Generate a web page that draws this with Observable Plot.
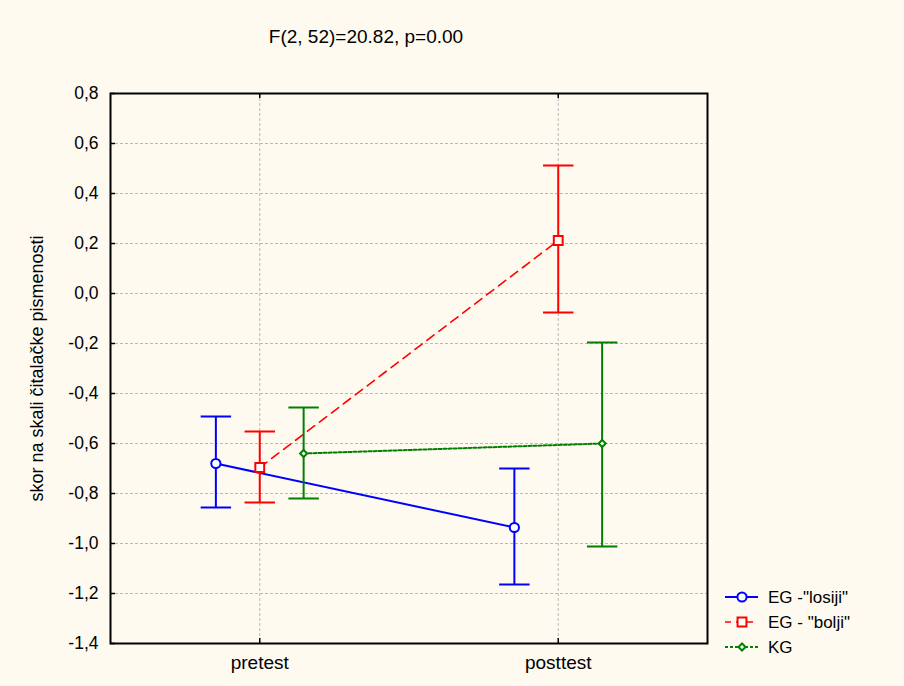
<!DOCTYPE html>
<html><head><meta charset="utf-8">
<script src="https://cdn.jsdelivr.net/npm/d3@7"></script>
<script src="https://cdn.jsdelivr.net/npm/@observablehq/plot@0.6"></script>
<style>
html,body{margin:0;padding:0;background:#fefaf0;}
#wrap{position:relative;width:904px;height:686px;background:#fefaf0;font-family:"Liberation Sans",Arial,sans-serif;color:#000;overflow:hidden;}
#chart{position:absolute;left:0;top:0;}
#title{position:absolute;left:0;width:732px;top:26px;text-align:center;font-size:19px;}
#legend{position:absolute;left:718px;top:582px;}
</style></head><body>
<div id="wrap"><div id="chart"></div><div id="title">F(2, 52)=20.82, p=0.00</div><div id="legend"></div></div>
<script>
// ---- data ----
const times = ["pretest", "posttest"];
const groups = ['EG -"losiji"', 'EG - "bolji"', "KG"];
const meanLosiji = [-0.68, -0.936];
const meanBolji = [-0.696, 0.212];
const meanKG = [-0.64, -0.60];
const hiLosiji = [-0.492, -0.70];
const hiBolji = [-0.552, 0.512];
const hiKG = [-0.456, -0.196];
const loLosiji = [-0.856, -1.164];
const loBolji = [-0.836, -0.076];
const loKG = [-0.82, -1.012];
const yTicks = [0.8, 0.6, 0.4, 0.2, 0.0, -0.2, -0.4, -0.6, -0.8, -1.0, -1.2, -1.4];
const yLabel = "skor na skali čitalačke pismenosti";

// ---- styling ----
const colors = ["#0000ff", "#ff0000", "#008000"];
const dashes = [null, "9,6", "3,2"];
const widths = [2, 1.6, 2];
const symbols = ["circle", "square", "diamond2"];
const radii = [4.6, 5, 3.2];
const offsets = [-0.147, 0, 0.147];
const capHalf = 0.051;

const means = [meanLosiji, meanBolji, meanKG];
const his = [hiLosiji, hiBolji, hiKG];
const los = [loLosiji, loBolji, loKG];

const rows = [];
groups.forEach((g, gi) => times.forEach((t, ti) => rows.push({
  group: g, gi, time: t, x: ti + offsets[gi],
  mean: means[gi][ti], hi: his[gi][ti], lo: los[gi][ti]
})));

const W = 904, H = 686, mL = 110, mR = 197, mT = 93, mB = 43;
const pw = W - mL - mR, ph = H - mT - mB;
const grid = {stroke: "#b9b9b9", strokeOpacity: 1, strokeDasharray: "3,2", strokeWidth: 1};
const fmt = d => d3.format(".1f")(d).replace(".", ",").replace("−", "-");

const marks = [
  Plot.gridY(yTicks, grid),
  Plot.gridX([0, 1], grid),
];
groups.forEach((g, gi) => {
  const data = rows.filter(r => r.gi === gi);
  const st = {stroke: colors[gi], strokeWidth: 2};
  marks.push(
    Plot.ruleX(data, {x: "x", y1: "lo", y2: "hi", ...st}),
    Plot.link(data, {x1: d => d.x - capHalf, x2: d => d.x + capHalf, y1: "lo", y2: "lo", ...st}),
    Plot.link(data, {x1: d => d.x - capHalf, x2: d => d.x + capHalf, y1: "hi", y2: "hi", ...st}),
    Plot.line(data, {x: "x", y: "mean", stroke: colors[gi], strokeWidth: widths[gi], strokeDasharray: dashes[gi]}),
    Plot.dot(data, {x: "x", y: "mean", symbol: symbols[gi], r: radii[gi], stroke: colors[gi], strokeWidth: 2, fill: "white"})
  );
});
marks.push(
  Plot.tickY(yTicks, {y: d => d, stroke: "black", strokeWidth: 1.5, insetRight: pw - 5}),
  Plot.tickX([0, 1], {x: d => d, stroke: "black", strokeWidth: 1.5, insetTop: ph - 5}),
  Plot.tickX([0, 1], {x: d => d, stroke: "black", strokeWidth: 1.5, insetBottom: ph - 5}),
  Plot.frame({stroke: "black", strokeWidth: 2}),
  Plot.axisY(yTicks, {tickSize: 0, tickPadding: 12, tickFormat: fmt, label: null, fontSize: 17.5}),
  Plot.axisX([0, 1], {tickSize: 0, tickPadding: 12, tickFormat: i => times[i], label: null, fontSize: 19}),
  Plot.text([yLabel], {text: d => d, frameAnchor: "left", textAnchor: "middle", rotate: -90, dx: -73, fontSize: 18, fill: "black"})
);

const chart = Plot.plot({
  width: W, height: H,
  marginLeft: mL, marginRight: mR, marginTop: mT, marginBottom: mB,
  x: {type: "linear", domain: [-0.5, 1.5]},
  y: {type: "linear", domain: [-1.4, 0.8]},
  style: {background: "transparent", fontFamily: '"Liberation Sans", Arial, sans-serif', fontSize: "17px", color: "black"},
  marks
});
document.getElementById("chart").appendChild(chart);

// ---- legend ----
const leg = d3.select("#legend").append("svg").attr("width", 180).attr("height", 80)
  .style("font-family", '"Liberation Sans", Arial, sans-serif').style("font-size", "17px");
groups.forEach((g, gi) => {
  const y = 15 + gi * 25;
  const row = leg.append("g");
  row.append("line").attr("x1", 7).attr("x2", 40).attr("y1", y).attr("y2", y)
    .attr("stroke", colors[gi]).attr("stroke-width", widths[gi]).attr("stroke-dasharray", gi === 1 ? "6,5" : dashes[gi]);
  const sym = d3.symbol().type(gi === 0 ? d3.symbolCircle : gi === 1 ? d3.symbolSquare : d3.symbolDiamond2)
    .size(Math.PI * radii[gi] * radii[gi]);
  row.append("path").attr("d", sym()).attr("transform", `translate(24,${y})`)
    .attr("fill", "white").attr("stroke", colors[gi]).attr("stroke-width", 2);
  row.append("text").attr("x", 50).attr("y", y).attr("dy", "0.35em").text(g);
});
</script>
</body></html>
